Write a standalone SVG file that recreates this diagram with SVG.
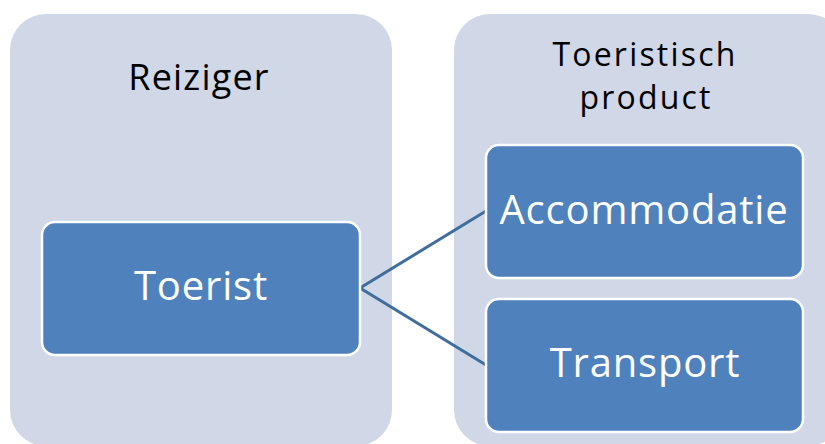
<svg xmlns="http://www.w3.org/2000/svg" width="825" height="444" viewBox="0 0 825 444">
<style>
.panel{fill:#D0D8E7;}
.box{fill:#4F81BD;stroke:#FFFFFF;stroke-width:2.5;}
.t{font-family:"Open Sans","Liberation Sans",sans-serif;text-anchor:middle;}
.dark{fill:#000000;font-size:36px;letter-spacing:1.2px;}
.dark2{fill:#000000;font-size:32px;letter-spacing:2.2px;}
.light{fill:#FFFFFF;font-size:40px;letter-spacing:0.8px;}
.conn{stroke:#3F6D9E;stroke-width:3;fill:none;}
</style>
<rect width="825" height="444" fill="#FFFFFF"/>
<g id="panel-reiziger">
<rect class="panel" x="10" y="14" width="382" height="432" rx="36"/>
<text class="t dark" x="199" y="90">Reiziger</text>
</g>
<g id="panel-product">
<rect class="panel" x="454" y="14" width="390" height="432" rx="36"/>
<text class="t dark2" x="645" y="66">Toeristisch</text>
<text class="t dark2" x="646" y="109">product</text>
</g>
<g id="connectors">
<line class="conn" x1="360" y1="288" x2="486" y2="211"/>
<line class="conn" x1="360" y1="288" x2="486" y2="365"/>
</g>
<g id="node-toerist">
<rect class="box" x="42" y="222" width="318" height="133" rx="13"/>
<text class="t light" x="201" y="300">Toerist</text>
</g>
<g id="node-accommodatie">
<rect class="box" x="486" y="145" width="317" height="133" rx="13"/>
<text class="t light" x="644" y="224">Accommodatie</text>
</g>
<g id="node-transport">
<rect class="box" x="486" y="299" width="317" height="133" rx="13"/>
<text class="t light" x="645" y="377">Transport</text>
</g>
</svg>
